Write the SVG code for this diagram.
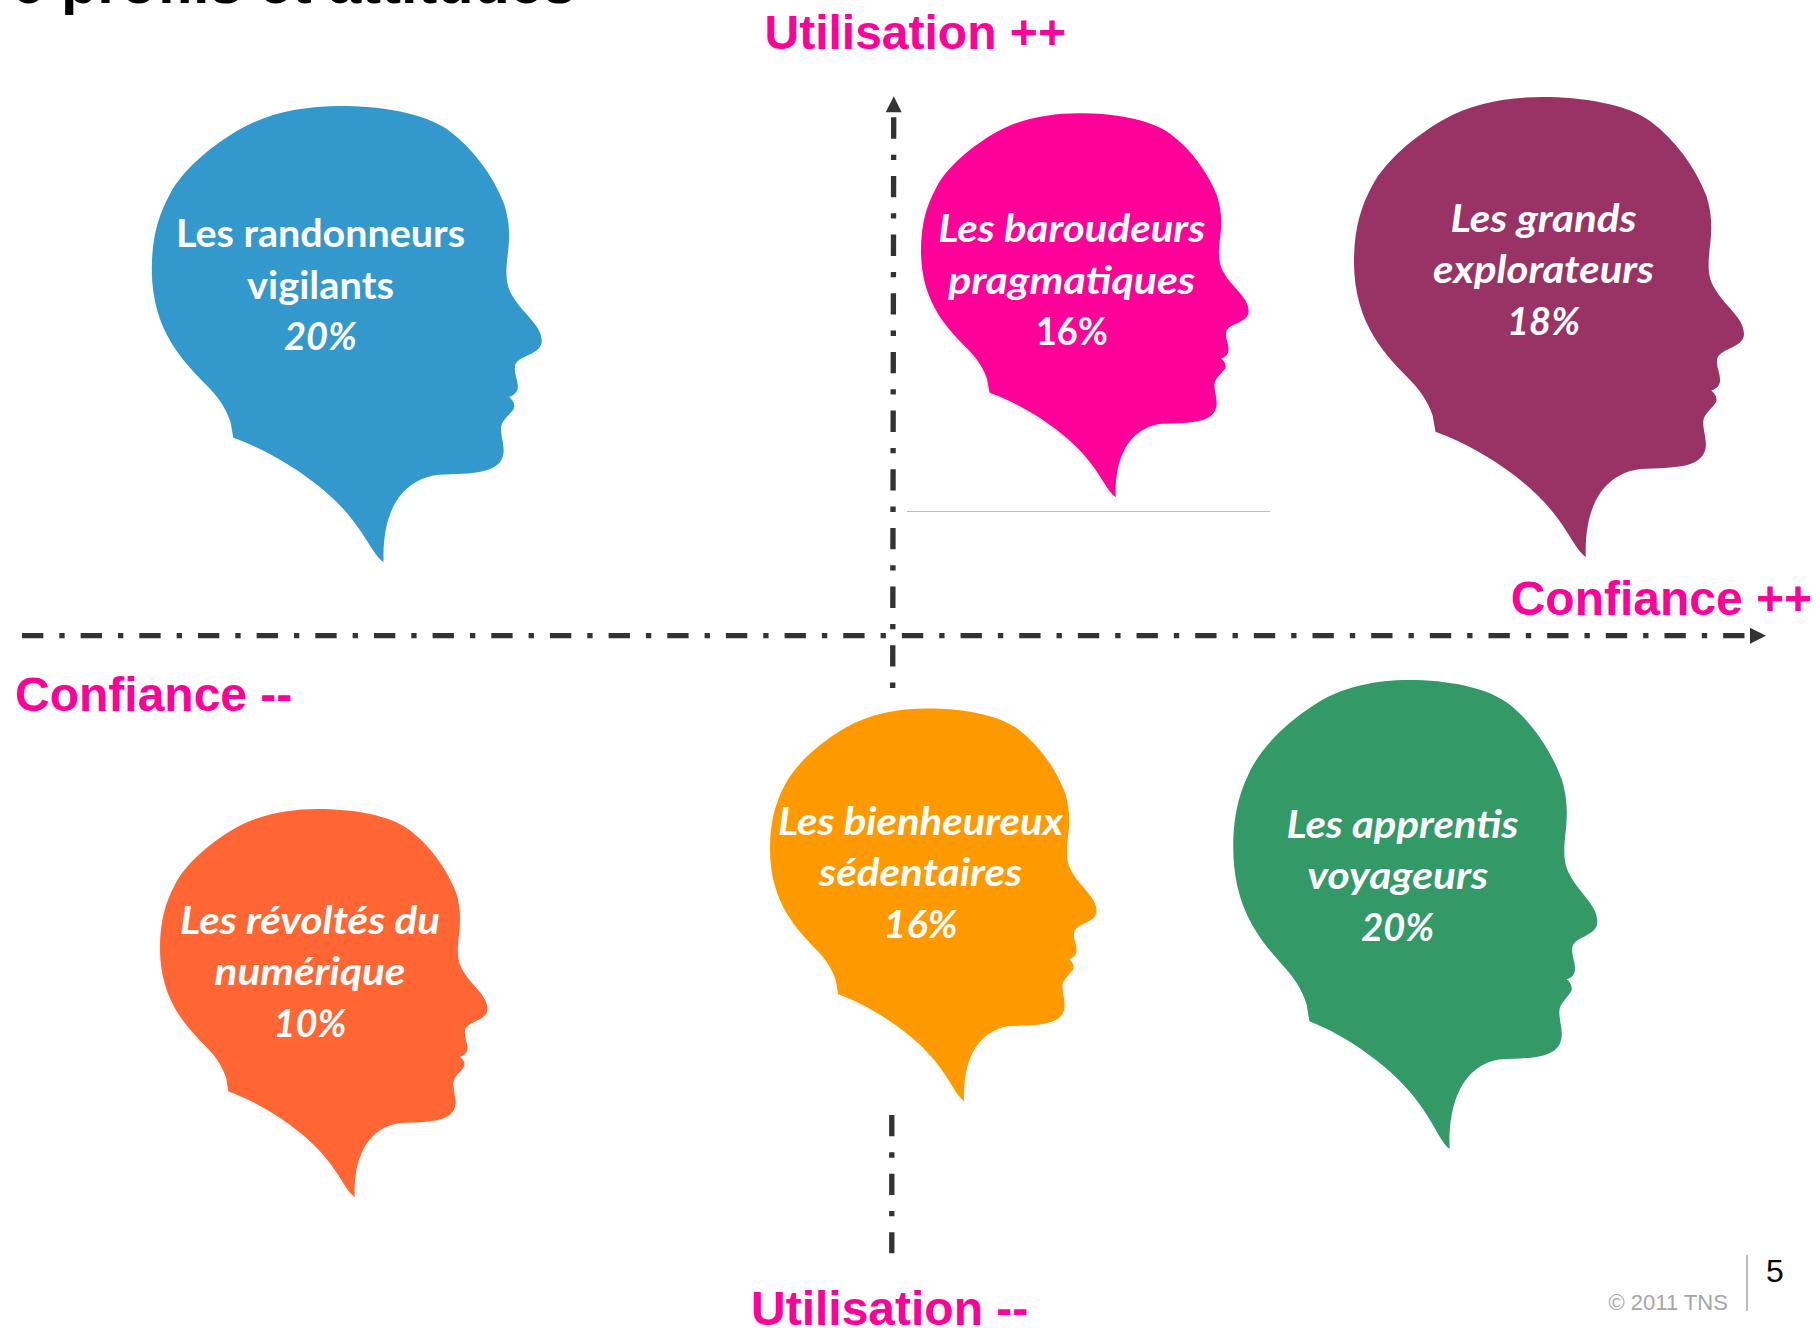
<svg xmlns="http://www.w3.org/2000/svg" width="1816" height="1328" viewBox="0 0 1816 1328">
<style>
.label{font:bold 48px "Liberation Sans",Arial,sans-serif;fill:#FF0099}
.t{font-family:Lato,"Liberation Sans",sans-serif;font-weight:700;font-size:39px;fill:#fff;text-anchor:middle}
.i{font-style:italic}
.axis{fill:none;stroke:#333;stroke-width:5.33;stroke-dasharray:21.33 16 5.33 16}
</style>
<defs>
<path id="head" d="M590 1105L583 1065C570 1025 545 995 525 975C470 918 384 840 384 680C384 600 400 545 430 490C465 425 540 365 610 325C680 285 770 268 860 268C960 268 1075 285 1135 330C1195 375 1245 440 1275 515C1292 570 1288 610 1283 650C1278 695 1280 720 1295 745C1320 790 1370 820 1370 860C1370 895 1315 895 1303 920C1297 945 1315 965 1308 985C1304 995 1295 1000 1287 1002C1295 1008 1303 1018 1300 1030C1292 1045 1268 1060 1267 1080C1266 1100 1278 1130 1272 1150C1260 1195 1195 1195 1110 1198C1040 1205 965 1260 970 1418C945 1400 930 1360 890 1310C820 1220 690 1140 590 1105Z"/>
<marker id="arrow" viewBox="0 0 16 16" refX="-5" refY="8" markerWidth="16" markerHeight="16" markerUnits="userSpaceOnUse" orient="auto-start-reverse" overflow="visible"><path d="M0 0L16 8L0 16Z" fill="#333"/></marker>
</defs>
<rect width="1816" height="1328" fill="#fff"/>
<text x="11.5" y="3" style="font:bold 59.4px 'Liberation Sans',Arial,sans-serif" fill="#000">6 profils et attitudes</text>
<g id="connectors">
<path class="axis" d="M22 635.7H1745" marker-end="url(#arrow)"/>
<path class="axis" d="M893.7 117.3L892.7 688" marker-start="url(#arrow)"/>
<path class="axis" d="M891.8 1115V1253.3"/>
<path d="M907 511.5H1270" stroke="#F0A0D0" stroke-width="1" fill="none"/>
</g>
<g id="node-randonneurs">
<use href="#head" fill="#3399CC" transform="translate(151.8 106) scale(.3955 .3965) translate(-384 -268)"/>
<text class="t" x="320.5" y="247" textLength="289" lengthAdjust="spacingAndGlyphs">Les randonneurs</text>
<text class="t" x="320.5" y="298.5" textLength="147" lengthAdjust="spacingAndGlyphs">vigilants</text>
<text class="t i" x="320.5" y="350" textLength="73" lengthAdjust="spacingAndGlyphs">20%</text>
</g>
<g id="node-baroudeurs">
<use href="#head" fill="#FF0099" transform="translate(921 113.3) scale(.3323 .3339) translate(-384 -268)"/>
<text class="t i" x="1071.7" y="241.7" textLength="267" lengthAdjust="spacingAndGlyphs">Les baroudeurs</text>
<text class="t i" x="1071.7" y="294" textLength="247" lengthAdjust="spacingAndGlyphs">pragmatiques</text>
<text class="t" x="1071.7" y="345" textLength="72" lengthAdjust="spacingAndGlyphs">16%</text>
</g>
<g id="node-explorateurs">
<use href="#head" fill="#993366" transform="translate(1354 97) scale(.3955 .4) translate(-384 -268)"/>
<text class="t i" x="1543.6" y="232.3" textLength="186" lengthAdjust="spacingAndGlyphs">Les grands</text>
<text class="t i" x="1543.6" y="283.3" textLength="221" lengthAdjust="spacingAndGlyphs">explorateurs</text>
<text class="t i" x="1543.6" y="334.5" textLength="73" lengthAdjust="spacingAndGlyphs">18%</text>
</g>
<g id="node-revoltes">
<use href="#head" fill="#FF6633" transform="translate(160 809) scale(.3322 .3375) translate(-384 -268)"/>
<text class="t i" x="310" y="934" textLength="260" lengthAdjust="spacingAndGlyphs">Les révoltés du</text>
<text class="t i" x="310" y="985.2" textLength="191" lengthAdjust="spacingAndGlyphs">numérique</text>
<text class="t i" x="310" y="1037" textLength="73" lengthAdjust="spacingAndGlyphs">10%</text>
</g>
<g id="node-bienheureux">
<use href="#head" fill="#FF9900" transform="translate(770 708.5) scale(.3312 .3415) translate(-384 -268)"/>
<text class="t i" x="920.6" y="834.7" textLength="285" lengthAdjust="spacingAndGlyphs">Les bienheureux</text>
<text class="t i" x="920.6" y="886" textLength="203" lengthAdjust="spacingAndGlyphs">sédentaires</text>
<text class="t i" x="920.6" y="938" textLength="74" lengthAdjust="spacingAndGlyphs">16%</text>
</g>
<g id="node-apprentis">
<use href="#head" fill="#339966" transform="translate(1233.3 680) scale(.3692 .4078) translate(-384 -268)"/>
<text class="t i" x="1402.4" y="838" textLength="232" lengthAdjust="spacingAndGlyphs">Les apprentis</text>
<text class="t i" x="1397.7" y="889" textLength="181" lengthAdjust="spacingAndGlyphs">voyageurs</text>
<text class="t i" x="1397.7" y="941" textLength="73" lengthAdjust="spacingAndGlyphs">20%</text>
</g>
<text class="label" x="764.5" y="49">Utilisation ++</text>
<text class="label" x="1510.7" y="615">Confiance ++</text>
<text class="label" x="15" y="711">Confiance --</text>
<text class="label" x="751" y="1325">Utilisation --</text>
<text x="1608.5" y="1310" style="font:22px 'Liberation Sans',Arial,sans-serif" fill="#A6A6A6">© 2011 TNS</text>
<path d="M1747 1255V1311" stroke="#999" stroke-width="1.3" fill="none"/>
<text x="1766" y="1282" style="font:32px 'Liberation Sans',Arial,sans-serif" fill="#000">5</text>
</svg>
